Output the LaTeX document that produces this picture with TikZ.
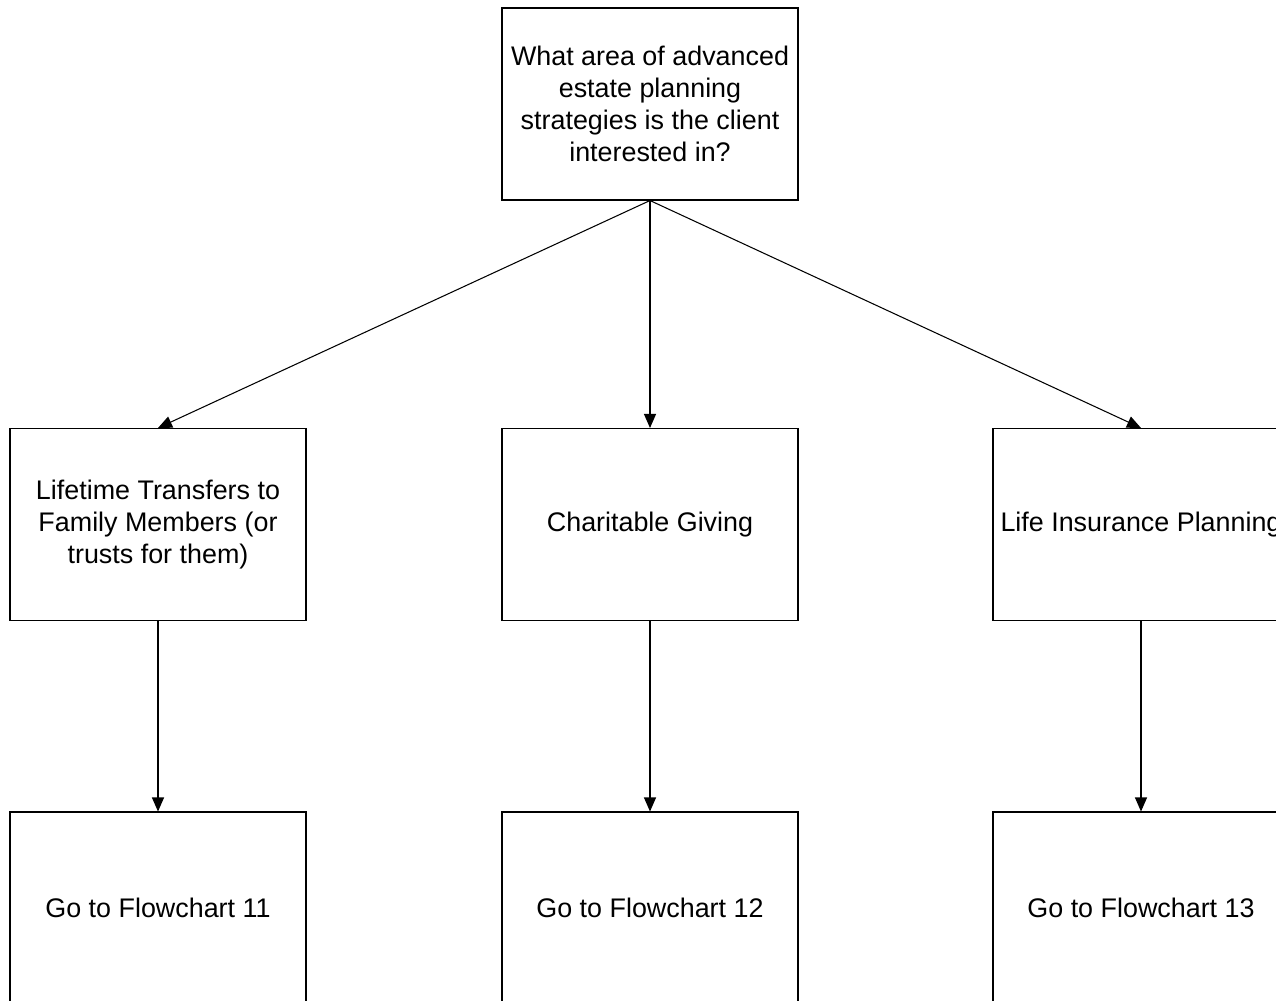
\documentclass[tikz,border=0pt]{standalone}
\usepackage{fontspec}
\setmainfont{Liberation Sans}
\usepackage{tikz}
\usetikzlibrary{arrows.meta}

\begin{document}
\begin{tikzpicture}[
        box/.style={draw, line width=0.6pt, minimum width=5.92cm, minimum height=3.84cm,
            align=center, inner sep=0pt, font=\fontsize{15.3}{18.2}\selectfont},
        flow/.style={-{Triangle[length=0.28cm,width=0.24cm]}, line width=0.6pt}
    ]
        \useasboundingbox (0,0) rectangle (25.52,-20);
        \clip (0,0) rectangle (25.52,-20);
        \node[box] (question) at (13.0,-2.08) {What area of advanced\\estate planning\\strategies is the client\\interested in?};
        \node[box] (lifetime) at (3.16,-10.49) {Lifetime Transfers to\\Family Members (or\\trusts for them)};
        \node[box] (charity) at (13.0,-10.49) {Charitable Giving};
        \node[box] (insurance) at (22.82,-10.49) {Life Insurance Planning};
        \node[box] (chart11) at (3.16,-18.16) {Go to Flowchart 11};
        \node[box] (chart12) at (13.0,-18.16) {Go to Flowchart 12};
        \node[box] (chart13) at (22.82,-18.16) {Go to Flowchart 13};
        \draw[flow] (question.south) -- (lifetime.north);
        \draw[flow] (question.south) -- (charity.north);
        \draw[flow] (question.south) -- (insurance.north);
        \draw[flow] (lifetime.south) -- (chart11.north);
        \draw[flow] (charity.south) -- (chart12.north);
        \draw[flow] (insurance.south) -- (chart13.north);
\end{tikzpicture}
\end{document}
